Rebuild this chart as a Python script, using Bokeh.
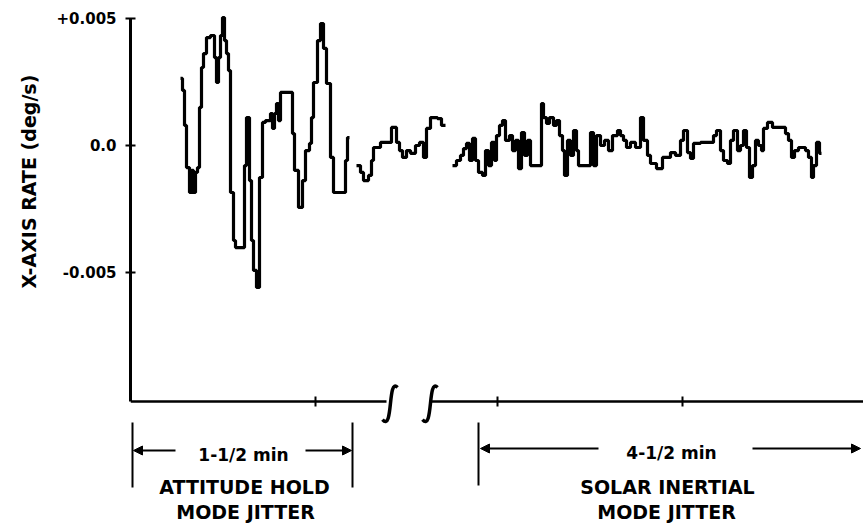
import math
import numpy as np
from bokeh.plotting import figure
from bokeh.models import Range1d, FixedTicker, Label, Arrow, NormalHead
from bokeh.embed import file_html
from bokeh.resources import INLINE

# ---------------- data ----------------
# time in chart units (one unit per horizontal step of the trace), rate in 1e-3 deg/s
seg1_t = [50, 52, 54, 56, 59, 61, 63, 65, 67, 69, 71, 73, 76, 80, 84, 86, 88, 90, 92, 94,
          96, 98, 100, 103, 105, 114, 116, 119, 121, 123, 126, 129, 132, 135, 140, 142, 144, 146, 148, 150,
          162, 164, 168, 172, 175, 179, 181, 183, 187, 190, 193, 196, 200, 203, 215, 217, 219]
seg1_rate = [2.64, 2.17, 0.79, -0.87, -1.85, -0.98, -1.85, -1.06, -0.87, 1.50,
             3.07, 3.62, 4.25, 4.33, 3.46, 2.48, 3.46, 4.33, 5.04, 4.13,
             3.62, 2.95, -1.85, -3.74, -4.02, -0.79, 1.10, -1.38, -3.74, -4.92,
             -5.59, -1.26, 0.91, 0.98, 1.26, 0.67, 1.26, 1.65, 0.98, 2.09,
             0.47, -0.98, -2.44, -1.38, -0.20, 0.08, 1.10, 2.48, 4.13, 4.80,
             3.82, 2.44, -0.47, -1.85, -0.59, 0.31, 0.31]

seg2_t = [226, 230, 233, 238, 241, 243, 250, 261, 266, 269, 272, 276, 280, 285, 289, 293, 296, 300, 307, 311, 315]
seg2_rate = [-0.79, -1.06, -1.38, -1.18, -0.59, -0.08, 0.12, 0.71, 0.12, -0.20, -0.47, -0.20, -0.31,
             0.00, 0.12, -0.47, 0.67, 1.10, 1.06, 0.79, 0.79]

seg3_t = [322, 326, 330, 333, 336, 339, 342, 345, 348, 352, 355, 358, 361, 364, 366, 369, 372, 375, 379, 382,
          385, 388, 391, 394, 397, 400, 411, 413, 416, 419, 423, 426, 429, 432, 434, 437, 440, 443, 446, 448,
          460, 463, 466, 470, 474, 478, 482, 487, 490, 493, 496, 500, 505, 510, 513, 517, 520, 526, 532, 540,
          545, 550, 553, 557, 560, 563, 570, 583, 586, 590, 593, 597, 600, 603, 607, 610, 613, 616, 619, 622,
          625, 628, 631, 633, 637, 642, 655, 658, 661, 664, 668, 675, 678, 681, 683, 686, 689, 691]
seg3_rate = [-0.79, -0.59, -0.39, -0.12, 0.08, -0.59, 0.28, -0.59, -1.06, -1.18,
             -0.20, -0.79, 0.12, -0.59, 0.39, 0.79, 0.98, 0.20, 0.39, -0.20,
             0.20, -0.91, 0.51, -0.39, 0.20, -0.79, 1.65, 1.10, 0.87, 1.10,
             0.79, 0.98, 0.39, -0.20, -1.18, 0.20, -0.39, 0.59, -0.20, -0.79,
             0.51, -0.79, 0.39, 0.00, 0.20, -0.20, 0.39, 0.59, 0.39, 0.20,
             -0.08, 0.12, -0.08, 1.10, 0.20, -0.39, -0.71, -0.91, -0.47, -0.28,
             -0.39, 0.20, 0.59, -0.28, -0.51, 0.08, 0.12, 0.39, 0.59, -0.20,
             -0.59, -0.71, 0.20, 0.59, -0.20, 0.00, 0.59, -0.08, -1.26, -0.79,
             0.20, 0.00, -0.20, 0.67, 0.91, 0.71, 0.47, 0.20, -0.47, -0.20,
             -0.08, -0.20, -0.47, -1.26, -0.79, 0.12, -0.31, -0.31]

y_ticks = [-0.005, 0.0, 0.005]
y_tick_labels = ["-0.005", "0.0", "+0.005"]
x_ticks = [185, 367, 552]
axis_floor = -0.01008          # rate value where the time axis is drawn
y_title = "X-AXIS RATE (deg/s)"
span_left_text = "1-1/2 min"
span_right_text = "4-1/2 min"
mode_left = ["ATTITUDE HOLD", "MODE JITTER"]
mode_right = ["SOLAR INERTIAL", "MODE JITTER"]
break_left, break_right = 256, 299   # gap in the time axis

# ---------------- layout ----------------
PX = 0.005 / 127.0   # rate units per screen pixel
FONT = "DejaVu Sans"

def below(px):
    return axis_floor - px * PX

p = figure(frame_width=733, frame_height=512, x_axis_location="above",
           title=y_title, title_location="left",
           x_range=Range1d(0, 733), y_range=Range1d(below(123), 0.005 + 6 * PX),
           output_backend="svg", toolbar_location=None,
           min_border_left=130, min_border_right=0, min_border_top=12, min_border_bottom=0,
           background_fill_color="white", border_fill_color="white", outline_line_color=None)
p.grid.visible = False

# vertical axis title (plot title placed on the left, shifted up to where the original sits)
p.title.align = "left"
p.title.offset = 236
p.title.standoff = 28
p.title.text_font = FONT
p.title.text_font_style = "bold"
p.title.text_font_size = "19px"
p.title.text_color = "black"

ya = p.yaxis[0]
ya.ticker = FixedTicker(ticks=y_ticks)
ya.major_label_overrides = {k: v for k, v in zip(y_ticks, y_tick_labels)}
ya.bounds = (axis_floor, 0.005)
ya.axis_line_width = 3
ya.major_tick_in = 5
ya.major_tick_out = 5
ya.major_tick_line_width = 2
ya.minor_tick_line_color = None
ya.major_label_text_font = FONT
ya.major_label_text_font_style = "bold"
ya.major_label_text_font_size = "15px"
ya.major_label_text_color = "black"
ya.major_label_standoff = 9

xa = p.xaxis[0]
xa.fixed_location = axis_floor
xa.bounds = (0, 733)
xa.ticker = FixedTicker(ticks=x_ticks)
xa.major_label_text_font_size = "1px"
xa.major_label_text_color = None
xa.major_label_standoff = 0
xa.major_tick_in = 5
xa.major_tick_out = 5
xa.major_tick_line_width = 2
xa.minor_tick_line_color = None
xa.axis_line_width = 2.5

# data traces (zero-order-hold steps)
for tt, rr in ((seg1_t, seg1_rate), (seg2_t, seg2_rate), (seg3_t, seg3_rate)):
    p.step(tt, np.array(rr) * 1e-3, mode="after", line_width=3.2, line_color="black")

# axis break
p.quad(left=break_left, right=break_right, bottom=below(8), top=axis_floor + 8 * PX,
       fill_color="white", line_color=None, level="overlay")
for c in (break_left + 4, break_right + 1):
    p.bezier(x0=c + 7, y0=axis_floor + 14 * PX, x1=c - 8, y1=below(18),
             cx0=c - 3, cy0=axis_floor + 25 * PX, cx1=c + 3, cy1=below(31),
             line_width=3.5, line_color="black", level="overlay")

# dimension lines
p.segment(x0=[2, 222, 348], y0=[below(21)] * 3, x1=[2, 222, 348],
          y1=[below(86), below(86), below(84)], line_width=2, line_color="black")
for xs, xe, yy in ((45, 3, below(49)), (175, 221, below(49)), (468, 350, below(47)), (622, 730, below(47))):
    p.add_layout(Arrow(end=NormalHead(size=9, fill_color="black", line_color="black"),
                       x_start=xs, y_start=yy, x_end=xe, y_end=yy,
                       line_width=2, line_color="black"))

def lab(x, y, text, size):
    p.add_layout(Label(x=x, y=y, text=text, text_align="center",
                       text_baseline="middle", text_font=FONT, text_font_style="bold",
                       text_font_size=size, text_color="black"))

lab(113, below(53), span_left_text, "17px")
lab(541, below(51), span_right_text, "17px")
lab(114, below(85), mode_left[0], "19px")
lab(115, below(110), mode_left[1], "19px")
lab(537, below(85), mode_right[0], "19px")
lab(536, below(110), mode_right[1], "19px")

open("out.html", "w").write(file_html(p, INLINE))
